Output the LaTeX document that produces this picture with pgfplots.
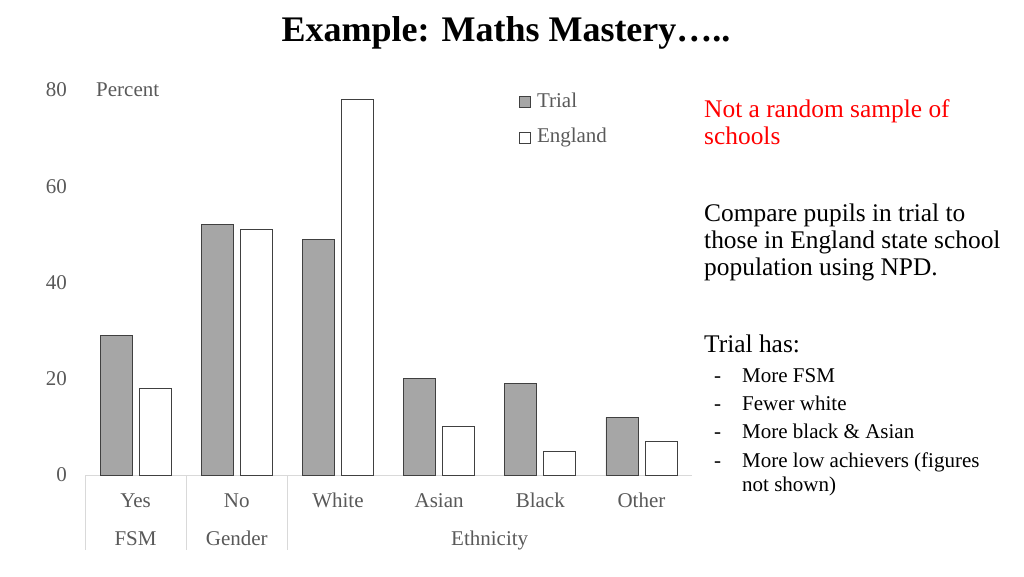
\documentclass[border=0pt]{standalone}
\usepackage{fontspec}
\setmainfont{Liberation Serif}
\usepackage{pgfplots}
\pgfplotsset{compat=1.18}

\definecolor{trialgray}{HTML}{A6A6A6}
\definecolor{edgegray}{HTML}{404040}
\definecolor{labelgray}{HTML}{595959}
\definecolor{linegray}{HTML}{D9D9D9}
\definecolor{notered}{HTML}{FF0000}

\newcommand{\chartfont}{\fontsize{21}{24}\selectfont}
\newcommand{\bodyfont}{\fontsize{25.4}{28}\selectfont}
\newcommand{\bulletfont}{\fontsize{21}{24}\selectfont}

\begin{document}
\begin{tikzpicture}
\useasboundingbox (0pt,0pt) rectangle (1024pt,576pt);

% title
\node[anchor=base, inner sep=0pt, font=\fontsize{36}{40}\selectfont\bfseries]
  at (506pt,534pt) {Example: Maths Mastery…..};

\begin{axis}[
    at={(85pt,101pt)}, anchor=south west,
    scale only axis, width=607pt, height=385pt,
    clip=false,
    ymin=0, ymax=80, xmin=-0.5, xmax=5.5,
    ybar=7pt, bar width=32pt,
    axis x line*=bottom, axis y line*=left,
    x axis line style={linegray, line width=1pt, -},
    y axis line style={draw=none},
    major tick length=0pt,
    ytick={0,20,40,60,80},
    yticklabel style={font=\chartfont, text=labelgray, inner sep=0pt, anchor=east, xshift=-18pt},
    /pgf/number format/assume math mode=true,
    xtick={0,1,2,3,4,5},
    xticklabels={Yes,No,White,Asian,Black,Other},
    xticklabel style={font=\chartfont, text=labelgray, inner sep=0pt, anchor=base, yshift=-32pt},
    legend style={at={(0.715,0.995)}, anchor=north west, draw=none, fill=none,
        inner sep=0pt, font=\chartfont, text=labelgray, row sep=15.7pt,
        nodes={inner sep=0pt, text height=15pt, text depth=5pt},
        /tikz/every odd column/.append style={column sep=6pt}},
    legend cell align=left,
    legend image code/.code={\draw[#1, line width=0.8pt] (0pt,-5.5pt) rectangle (11pt,5.5pt);},
]
\addplot[fill=trialgray, draw=edgegray, line width=0.8pt]
    coordinates {(0,29) (1,52) (2,49) (3,20) (4,19) (5,12)};
\addplot[fill=white, draw=edgegray, line width=0.8pt]
    coordinates {(0,18) (1,51) (2,78) (3,10) (4,5) (5,7)};
\legend{Trial, England}

% group separators and group names
\draw[linegray, line width=1pt] (axis cs:-0.5,0) -- ++(0pt,-75pt);
\draw[linegray, line width=1pt] (axis cs:0.5,0) -- ++(0pt,-75pt);
\draw[linegray, line width=1pt] (axis cs:1.5,0) -- ++(0pt,-75pt);
\node[anchor=base, inner sep=0pt, font=\chartfont, text=labelgray, yshift=-70pt] at (axis cs:0,0) {FSM};
\node[anchor=base, inner sep=0pt, font=\chartfont, text=labelgray, yshift=-70pt] at (axis cs:1,0) {Gender};
\node[anchor=base, inner sep=0pt, font=\chartfont, text=labelgray, yshift=-70pt] at (axis cs:3.5,0) {Ethnicity};
\node[anchor=west, inner sep=0pt, font=\chartfont, text=labelgray, xshift=11pt] at (rel axis cs:0,1) {Percent};
\end{axis}

% notes on the right
\node[anchor=base west, inner sep=0pt, font=\bodyfont, text=notered] at (704pt,458pt) {Not a random sample of};
\node[anchor=base west, inner sep=0pt, font=\bodyfont, text=notered] at (704pt,431pt) {schools};

\node[anchor=base west, inner sep=0pt, font=\bodyfont] at (704pt,354pt) {Compare pupils in trial to};
\node[anchor=base west, inner sep=0pt, font=\bodyfont] at (704pt,327pt) {those in England state school};
\node[anchor=base west, inner sep=0pt, font=\bodyfont] at (704pt,300pt) {population using NPD.};

\node[anchor=base west, inner sep=0pt, font=\bodyfont] at (704pt,224pt) {Trial has:};
\foreach \yy/\txt in {193.5/More FSM, 165.5/Fewer white, 137.5/More black \& Asian, 109/More low achievers (figures} {
  \node[anchor=base west, inner sep=0pt, font=\bulletfont] at (714pt,\yy pt) {-};
  \node[anchor=base west, inner sep=0pt, font=\bulletfont] at (742pt,\yy pt) {\txt};
}
\node[anchor=base west, inner sep=0pt, font=\bulletfont] at (742pt,85pt) {not shown)};
\end{tikzpicture}
\end{document}
